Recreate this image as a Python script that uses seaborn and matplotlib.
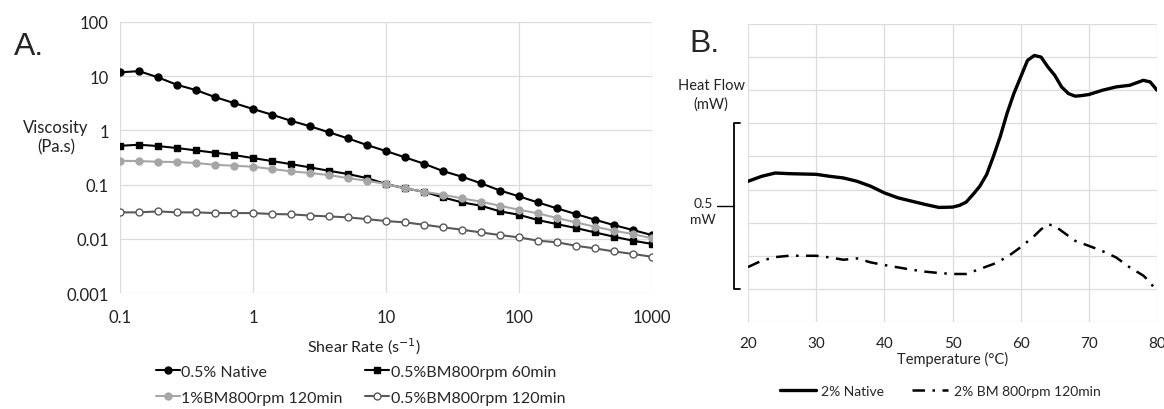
import numpy as np
import pandas as pd
import matplotlib
matplotlib.use("Agg")
import matplotlib.pyplot as plt
import seaborn as sns

# ---- Panel A: viscosity vs shear rate ----
shear_rate = [0.1, 0.139, 0.193, 0.268, 0.373, 0.518, 0.72, 1.0, 1.39, 1.93,
              2.68, 3.73, 5.18, 7.2, 10, 13.9, 19.3, 26.8, 37.3, 51.8,
              72, 100, 139, 193, 268, 373, 518, 720, 1000]
visc_native = [11.7, 12.3, 9.46, 6.9, 5.5, 4.1, 3.18, 2.47, 1.94, 1.50,
               1.19, 0.92, 0.71, 0.536, 0.416, 0.318, 0.243, 0.178, 0.140, 0.106,
               0.078, 0.061, 0.047, 0.0366, 0.0288, 0.0226, 0.018, 0.0146, 0.0118]
visc_bm60 = [0.52, 0.543, 0.514, 0.472, 0.428, 0.387, 0.351, 0.309, 0.272, 0.239,
             0.208, 0.18, 0.157, 0.132, 0.103, 0.0855, 0.074, 0.0583, 0.0472, 0.0409,
             0.0322, 0.0279, 0.0223, 0.0188, 0.0159, 0.0132, 0.011, 0.0093, 0.0081]
visc_1bm120 = [0.275, 0.272, 0.264, 0.261, 0.25, 0.232, 0.223, 0.214, 0.194, 0.176,
               0.164, 0.150, 0.132, 0.118, 0.103, 0.0855, 0.074, 0.0652, 0.056, 0.0485,
               0.0409, 0.0345, 0.0296, 0.0243, 0.0202, 0.0168, 0.0142, 0.0123, 0.0103]
visc_bm120 = [0.0309, 0.0309, 0.0322, 0.0309, 0.0309, 0.030, 0.030, 0.030, 0.0288, 0.0284,
              0.027, 0.026, 0.025, 0.0232, 0.0214, 0.0202, 0.0183, 0.0164, 0.0148, 0.0132,
              0.0118, 0.0107, 0.0093, 0.0087, 0.0075, 0.0067, 0.0059, 0.0053, 0.0047]

# ---- Panel B: DSC heat flow vs temperature ----
temp_native = [20, 22, 24, 26, 28, 30, 32, 34, 36, 38, 40, 42, 44, 46, 48, 50,
               51, 52, 53, 54, 55, 56, 57, 58, 59, 60, 61, 62, 63, 64, 65, 66,
               67, 68, 69, 70, 72, 74, 76, 78, 79, 80]
heat_native = [0.425, 0.44, 0.45, 0.448, 0.447, 0.446, 0.44, 0.435, 0.425, 0.41, 0.39,
               0.375, 0.365, 0.355, 0.346, 0.347, 0.352, 0.362, 0.385, 0.41, 0.445,
               0.50, 0.56, 0.63, 0.69, 0.74, 0.79, 0.805, 0.80, 0.77, 0.745, 0.71,
               0.69, 0.682, 0.684, 0.687, 0.70, 0.71, 0.715, 0.73, 0.725, 0.70]
temp_bm = [20, 22, 24, 26, 28, 30, 32, 34, 36, 38, 40, 42, 44, 46, 48, 50,
           52, 54, 56, 58, 60, 62, 63, 64, 65, 66, 68, 70, 72, 74, 76, 78, 79, 80]
heat_bm = [0.166, 0.185, 0.196, 0.2, 0.2, 0.2, 0.195, 0.188, 0.192, 0.18, 0.172,
           0.165, 0.158, 0.152, 0.148, 0.145, 0.145, 0.16, 0.175, 0.196, 0.226,
           0.26, 0.28, 0.295, 0.29, 0.275, 0.245, 0.23, 0.214, 0.195, 0.165,
           0.14, 0.12, 0.09]

sns.set_theme(style="white")
plt.rcParams["font.family"] = ["Lato", "DejaVu Sans"]

fig = plt.figure(figsize=(11.64, 4.10), dpi=100)
ax1 = fig.add_axes([0.1031, 0.2822, 0.4570, 0.6624])
ax2 = fig.add_axes([0.6426, 0.2122, 0.3514, 0.7268])

grid_c = "#dcdcdc"
txt_c = "#222222"

series = [
    ("0.5% Native", visc_native, dict(color="black", marker="o", markersize=5,
                                      markerfacecolor="black", markeredgecolor="black")),
    ("0.5%BM800rpm 60min", visc_bm60, dict(color="black", marker="s", markersize=5,
                                           markerfacecolor="black", markeredgecolor="black")),
    ("1%BM800rpm 120min", visc_1bm120, dict(color="#a6a6a6", marker="o", markersize=5,
                                            markerfacecolor="#a6a6a6", markeredgecolor="#a6a6a6")),
    ("0.5%BM800rpm 120min", visc_bm120, dict(color="#595959", marker="o", markersize=5,
                                             markerfacecolor="white", markeredgecolor="#595959")),
]
for label, vals, kw in series:
    df = pd.DataFrame({"x": shear_rate, "y": vals})
    sns.lineplot(data=df, x="x", y="y", ax=ax1, label=label, linewidth=1.5,
                 markeredgewidth=1.0, **kw)

ax1.set_xscale("log")
ax1.set_yscale("log")
ax1.set_xlim(0.1, 1000)
ax1.set_ylim(0.001, 100)
ax1.set_xticks([0.1, 1, 10, 100, 1000])
ax1.set_xticklabels(["0.1", "1", "10", "100", "1000"])
ax1.set_yticks([0.001, 0.01, 0.1, 1, 10, 100])
ax1.set_yticklabels(["0.001", "0.01", "0.1", "1", "10", "100"])
ax1.minorticks_off()
ax1.grid(True, color=grid_c, linewidth=0.9)
for s in ax1.spines.values():
    s.set_visible(False)
ax1.tick_params(axis="both", labelsize=12, length=0, colors=txt_c)
ax1.tick_params(axis="x", pad=11)
ax1.tick_params(axis="y", pad=8)
ax1.set_xlabel("Shear Rate (s$^{-1}$)", fontsize=11.5, color=txt_c)
ax1.xaxis.set_label_coords(0.459, -0.155)
ax1.set_ylabel("")
h, l = ax1.get_legend_handles_labels()
order = [0, 2, 1, 3]
ax1.legend([h[i] for i in order], [l[i] for i in order], loc="upper left",
           bbox_to_anchor=(0.04, -0.21), ncol=2, frameon=False, fontsize=11.5,
           handlelength=1.5, handletextpad=0.1, columnspacing=1.4, labelspacing=0.75)
fig.text(0.048, 0.663, "Viscosity\n(Pa.s)", ha="center", va="center",
         fontsize=12, linespacing=1.25, color=txt_c)
fig.text(0.012, 0.885, "A.", fontsize=23, family="Liberation Sans", va="center")

# Panel B
df_n = pd.DataFrame({"T": temp_native, "H": heat_native})
df_b = pd.DataFrame({"T": temp_bm, "H": heat_bm})
sns.lineplot(data=df_n, x="T", y="H", ax=ax2, color="black", linewidth=2.4,
             label="2% Native")
sns.lineplot(data=df_b, x="T", y="H", ax=ax2, color="black", linewidth=1.8,
             linestyle=(0, (5, 3, 1, 3)), label="2% BM 800rpm 120min")
ax2.set_xlim(20, 80)
ax2.set_ylim(0, 0.9)
ax2.set_xticks([20, 30, 40, 50, 60, 70, 80])
ax2.set_yticks(np.arange(0, 0.91, 0.1))
ax2.set_yticklabels([])
ax2.grid(True, color=grid_c, linewidth=0.9)
for s in ax2.spines.values():
    s.set_visible(False)
ax2.tick_params(axis="both", labelsize=11, length=0, colors=txt_c)
ax2.tick_params(axis="x", pad=10)
ax2.set_xlabel("Temperature (°C)", fontsize=10.5, color=txt_c, labelpad=1)
ax2.set_ylabel("")
ax2.legend(loc="upper center", bbox_to_anchor=(0.47, -0.17), ncol=2, frameon=False,
           fontsize=10, handlelength=2.6, handletextpad=0.4, columnspacing=2.0)

# scale bar (0.5 mW)
ax2.plot([-0.02, -0.035, -0.035, -0.02], [0.6, 0.6, 0.1, 0.1],
         transform=ax2.get_yaxis_transform(), color="black", linewidth=1.3,
         clip_on=False)
ax2.plot([-0.035, -0.075], [0.35, 0.35], transform=ax2.get_yaxis_transform(),
         color="black", linewidth=1.0, clip_on=False)
fig.text(0.604, 0.483, "0.5\nmW", ha="center", va="center", fontsize=10,
         linespacing=1.4, color=txt_c)
fig.text(0.611, 0.768, "Heat Flow\n(mW)", ha="center", va="center", fontsize=10.5,
         linespacing=1.4, color=txt_c)
fig.text(0.592, 0.893, "B.", fontsize=23, family="Liberation Sans", va="center")

fig.savefig("out.png", dpi=100)
